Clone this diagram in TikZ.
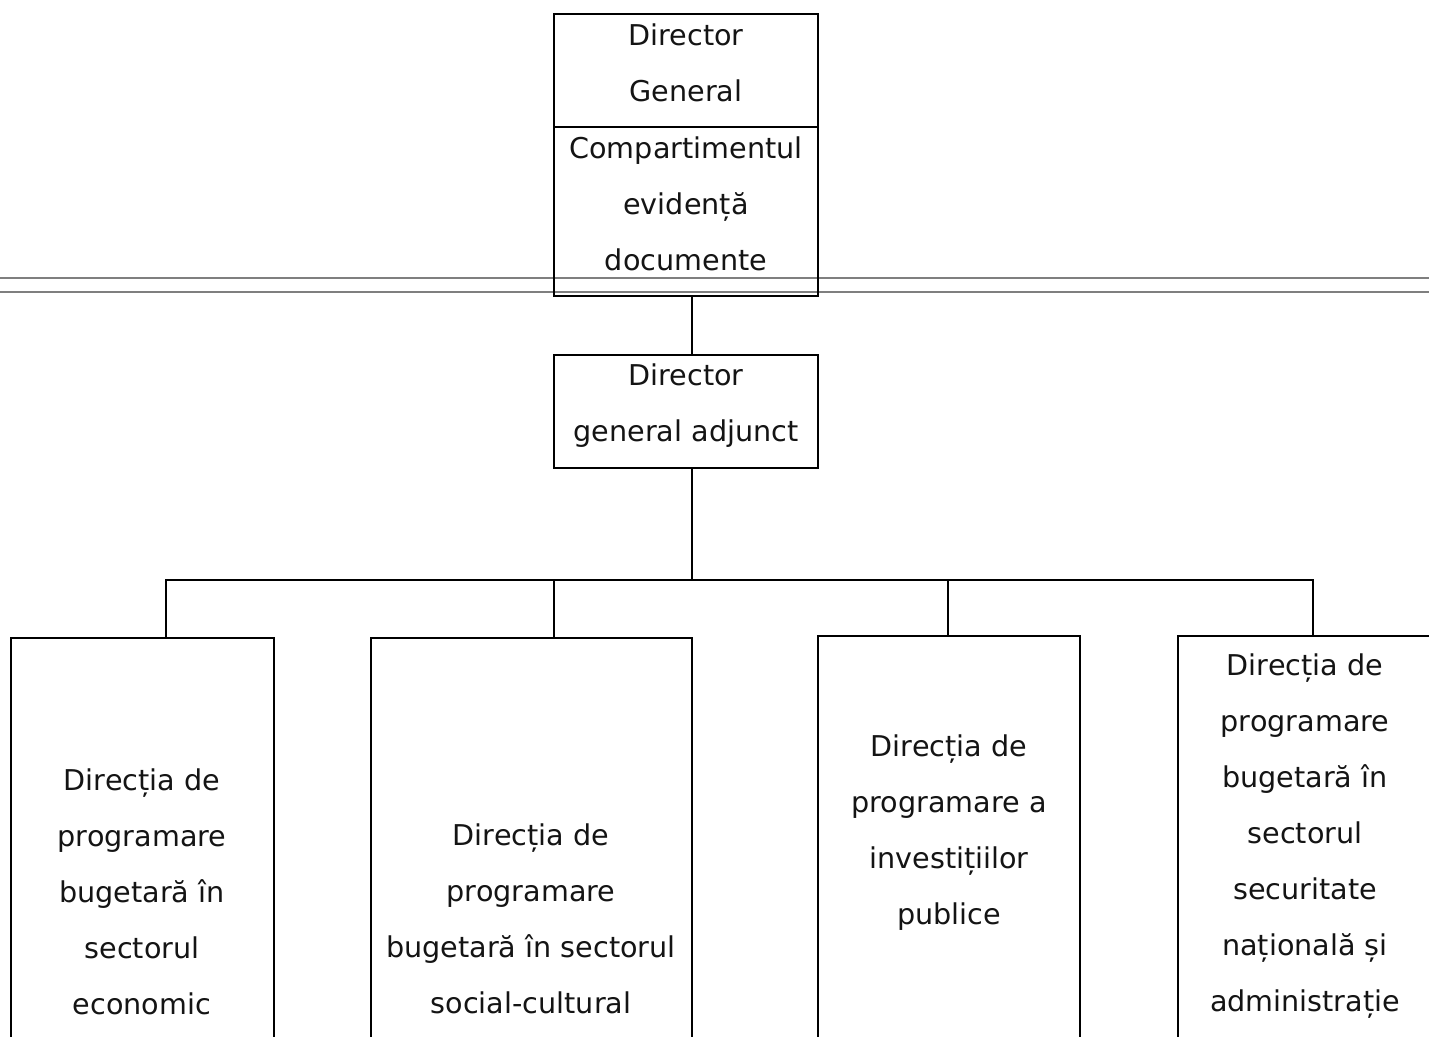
\documentclass[tikz,border=0pt]{standalone}
\usepackage{fontspec}
\setmainfont{DejaVu Sans}
\usetikzlibrary{fit}
\definecolor{ink}{HTML}{141414}
\definecolor{rule}{HTML}{7F7F7F}
\tikzset{
  box/.style={draw=black, line width=1pt, inner sep=0pt, fit={#1}},
  txt/.style={align=center, text=ink, inner sep=0pt,
    font=\fontsize{16.3pt}{31.9pt}\selectfont},
  link/.style={draw=black, line width=1pt},
  hrule/.style={draw=rule, line width=1.1pt}
}
\begin{document}
\begin{tikzpicture}[x=0.02cm, y=-0.02cm]
\clip (0,0) rectangle (1429,1036);
\fill[white] (0,0) rectangle (1429,1036);
% page rules
\coordinate (rA1) at (0,278);
\coordinate (rA2) at (1429,278);
\coordinate (rB1) at (0,292);
\coordinate (rB2) at (1429,292);
\draw[hrule] (rA1) -- (rA2);
\draw[hrule] (rB1) -- (rB2);
% boxes
\node[box={(554,14)(818,296)}] (dg) {};
\coordinate (divL) at (554,127);
\coordinate (divR) at (818,127);
\draw[link] (divL) -- (divR);
\node[box={(554,355)(818,468)}] (dga) {};
\node[box={(11,638)(274,1080)}] (b1) {};
\node[box={(371,638)(692,1080)}] (b2) {};
\node[box={(818,636)(1080,1080)}] (b3) {};
\node[box={(1178,636)(1433,1080)}] (b4) {};
% texts
\node[txt] (t0) at (686,63) {Director\\General};
\node[txt] (t0b) at (686,204) {Compartimentul\\evidență\\documente};
\node[txt] (t1) at (686,406) {Director\\general adjunct};
\node[txt] (tb1) at (142,892) {Direcția de\\programare\\bugetară în\\sectorul\\economic};
\node[txt] (tb2) at (531,919) {Direcția de\\programare\\bugetară în sectorul\\social-cultural};
\node[txt] (tb3) at (949,833) {Direcția de\\programare a\\investițiilor\\publice};
\node[txt] (tb4) at (1305,836) {Direcția de\\programare\\bugetară în\\sectorul\\securitate\\națională și\\administrație};
% connectors
\coordinate (trunk) at (692,0);
\coordinate (bus) at (0,580);
\coordinate (d1) at (166,0);
\coordinate (d2) at (554,0);
\coordinate (d3) at (948,0);
\coordinate (d4) at (1313,0);
\draw[link] (dg.south -| trunk) -- (dga.north -| trunk);
\draw[link] (dga.south -| trunk) -- (trunk |- bus);
\draw[link] (b1.north -| d1) -- (d1 |- bus) -- (d4 |- bus) -- (b4.north -| d4);
\draw[link] (d2 |- bus) -- (b2.north -| d2);
\draw[link] (d3 |- bus) -- (b3.north -| d3);
\end{tikzpicture}
\end{document}
